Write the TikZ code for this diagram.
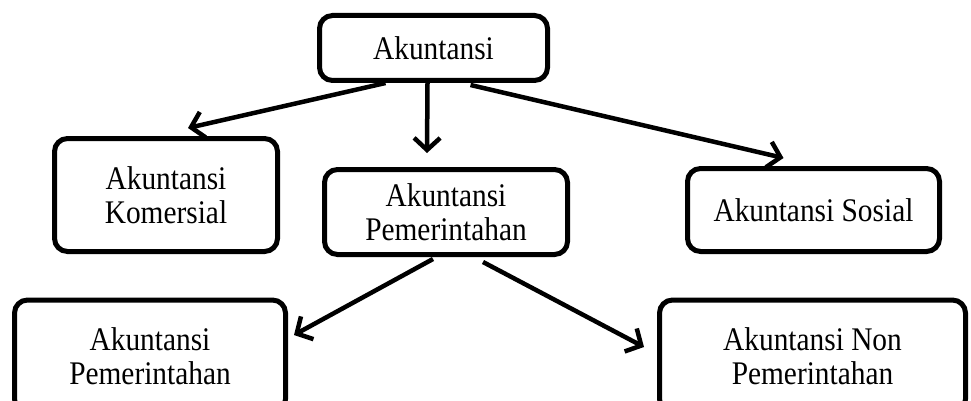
\documentclass[tikz,border=0pt]{standalone}
\usepackage{fontspec}
\setmainfont{Liberation Serif}[FakeStretch=0.89]
\usetikzlibrary{arrows.meta,calc}
\tikzset{
  box/.style={draw=black, line width=5pt, rounded corners=13pt, fill=white,
    align=center, inner sep=0pt, font=\fontsize{33}{34}\selectfont},
  conn/.style={line width=4.5pt, -{Straight Barb[length=12pt,width=26pt]}}
}
\begin{document}
\begin{tikzpicture}[x=1pt,y=-1pt]
\clip (0,0) rectangle (971,401);
\fill[white] (0,0) rectangle (971,401);
\node[box, minimum width=228pt, minimum height=65pt] (top) at (433.5,48) {Akuntansi};
\node[box, minimum width=223pt, minimum height=113pt] (kom) at (166,195) {Akuntansi\\Komersial};
\node[box, minimum width=243pt, minimum height=85pt] (pem) at (446,212) {Akuntansi\\Pemerintahan};
\node[box, minimum width=252pt, minimum height=83pt] (sos) at (813.5,210) {Akuntansi Sosial};
\node[box, minimum width=271pt, minimum height=112pt] (pl) at (150,356) {Akuntansi\\Pemerintahan};
\node[box, minimum width=306pt, minimum height=112pt] (npl) at (812.5,356) {Akuntansi Non\\Pemerintahan};
\draw[conn] ($(top.south)+(-48,0)$) -- ($(kom.north)+(22,-8)$);
\draw[conn] ($(top.south)+(-6,0)$) -- ($(pem.north)+(-19,-14)$);
\draw[conn] ($(top.south)+(37,2)$) -- ($(sos.north)+(-30,-8)$);
\draw[conn] ($(pem.south)+(-13,2)$) -- ($(pl.east)+(6,-21)$);
\draw[conn] ($(pem.south)+(37,5)$) -- ($(npl.west)+(-13,-9)$);
\end{tikzpicture}
\end{document}
